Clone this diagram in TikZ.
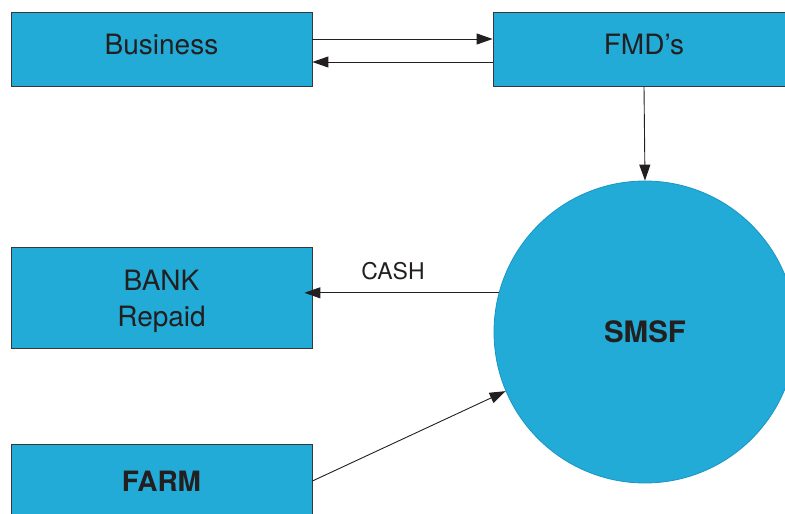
\documentclass[tikz,border=0pt]{standalone}
\usepackage{fontspec}
\setmainfont{TeX Gyre Heros}
\usetikzlibrary{arrows.meta}
\definecolor{boxblue}{RGB}{34,171,214}
\definecolor{ringblue}{RGB}{26,150,198}
\definecolor{ink}{RGB}{35,31,32}
\definecolor{edge}{RGB}{55,55,60}
\tikzset{
  flowbox/.style={draw=edge, line width=0.8pt, fill=boxblue, minimum width=301pt,
    text=ink, font=\fontsize{28}{36}\selectfont, align=center, inner sep=0pt},
  fundcircle/.style={circle, draw=ringblue, line width=0.8pt, fill=boxblue,
    minimum size=302pt, inner sep=0pt, text=ink, font=\fontsize{29.5}{34}\selectfont\bfseries},
  flow/.style={draw=ink, line width=0.9pt, -{Triangle[length=16pt,width=11pt]}},
  flowlabel/.style={text=ink, font=\fontsize{23}{27}\selectfont}
}
\begin{document}
\begin{tikzpicture}[x=1pt,y=-1pt]
  \useasboundingbox (0,0) rectangle (785,514);
  \clip (0,0) rectangle (785,514);

  % boxes (labels nudged without changing the box size)
  \node[flowbox, minimum height=74pt] (biz) at (161.5,49)
    {\raisebox{4pt}[\height][\depth]{Business}};
  \node[flowbox, minimum height=74pt, minimum width=302pt] (fmd) at (644,49)
    {\raisebox{4pt}[\height][\depth]{FMD’s}};
  \node[flowbox, minimum height=101pt] (bank) at (161.5,297.5)
    {\raisebox{-4pt}[\height][\depth]{\begin{tabular}{@{}c@{}}BANK\\Repaid\end{tabular}}};
  \node[flowbox, minimum height=74pt] (farm) at (161.5,481) {\bfseries FARM};

  % fund
  \node[fundcircle] (smsf) at (645,332) {SMSF};

  % connectors
  \draw[flow] ([yshift=10pt]biz.east) -- ([yshift=10pt]fmd.west);
  \draw[flow] ([yshift=-13pt]fmd.west) -- ([yshift=-13pt]biz.east);
  \draw[flow] (fmd.south) -- (smsf.north);
  \draw[flow, shorten >=-8pt] (smsf.165.8) -- (bank.east |- smsf.165.8);
  \draw[flow] (farm.east) -- (smsf.203.5);

  \node[flowlabel] (cash) at (393,271) {CASH};
\end{tikzpicture}
\end{document}
